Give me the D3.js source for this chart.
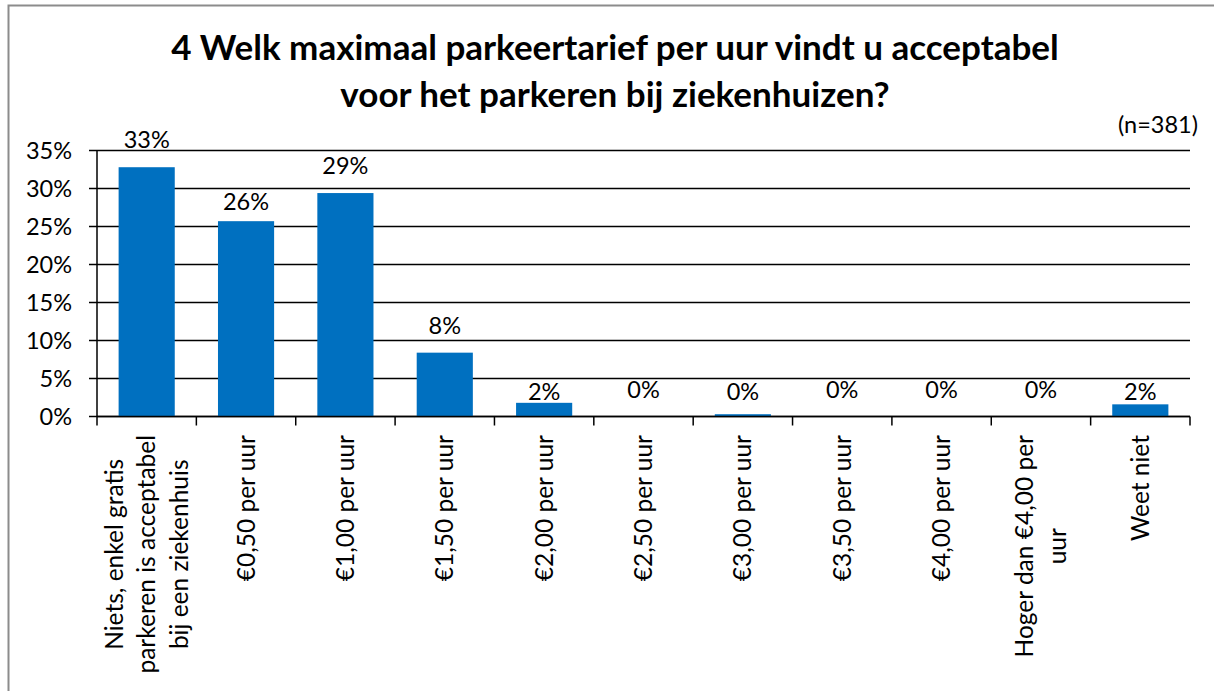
<!DOCTYPE html>
<html>
<head>
<meta charset="utf-8">
<script src="https://cdn.jsdelivr.net/npm/d3@7"></script>
<style>
    body { margin: 0; background: #fff; }
    svg { display: block; font-family: Lato, "Open Sans", sans-serif; }
</style>
</head>
<body>
<svg id="chart"></svg>
<script>
// Data
const categories = [
    "Niets, enkel gratis\nparkeren is acceptabel\nbij een ziekenhuis",
    "€0,50 per uur",
    "€1,00 per uur",
    "€1,50 per uur",
    "€2,00 per uur",
    "€2,50 per uur",
    "€3,00 per uur",
    "€3,50 per uur",
    "€4,00 per uur",
    "Hoger dan €4,00 per\nuur",
    "Weet niet"
];
const values = [0.328, 0.257, 0.294, 0.084, 0.018, 0, 0.003, 0, 0, 0, 0.016];
const valueLabels = ["33%", "26%", "29%", "8%", "2%", "0%", "0%", "0%", "0%", "0%", "2%"];
const yTicks = [0, 0.05, 0.10, 0.15, 0.20, 0.25, 0.30, 0.35];
const titleLines = [
    "4 Welk maximaal parkeertarief per uur vindt u acceptabel",
    "voor het parkeren bij ziekenhuizen?"
];
const sampleNote = "(n=381)";

const width = 1214;
const height = 691;
const svg = d3.select("#chart").attr("width", width).attr("height", height);

const plot = { left: 97, right: 1190, top: 150.5, bottom: 416.5 };

// Outer frame (only left/top edges visible in the crop)
svg.append("rect")
    .attr("x", 8.5).attr("y", 5.5)
    .attr("width", width + 20).attr("height", height + 20)
    .attr("fill", "none")
    .attr("stroke", "#8c8c8c")
    .attr("stroke-width", 2);

// Scales
const x = d3.scaleBand()
    .domain(categories)
    .range([plot.left, plot.right])
    .paddingInner(0.435)
    .paddingOuter(0.2175);
const step = x.step();

const y = d3.scaleLinear()
    .domain([0, 0.35])
    .range([plot.bottom, plot.top]);

// Gridlines + y ticks
svg.append("g")
    .selectAll("line")
    .data(yTicks)
    .join("line")
    .attr("x1", plot.left - 8)
    .attr("x2", plot.right)
    .attr("y1", d => y(d))
    .attr("y2", d => y(d))
    .attr("stroke", "#000")
    .attr("stroke-width", 1.5);

svg.append("g")
    .selectAll("text")
    .data(yTicks)
    .join("text")
    .attr("x", 72)
    .attr("y", d => y(d))
    .attr("dy", "0.36em")
    .attr("text-anchor", "end")
    .attr("font-size", "23.5px")
    .attr("fill", "#000")
    .text(d => d3.format(".0%")(d));

// Y axis line
svg.append("line")
    .attr("x1", plot.left).attr("x2", plot.left)
    .attr("y1", plot.top).attr("y2", plot.bottom)
    .attr("stroke", "#000").attr("stroke-width", 1.5);

// X axis ticks at category boundaries
const boundaries = d3.range(categories.length + 1).map(i => plot.left + i * step);
svg.append("g")
    .selectAll("line")
    .data(boundaries)
    .join("line")
    .attr("x1", d => d).attr("x2", d => d)
    .attr("y1", plot.bottom).attr("y2", plot.bottom + 9)
    .attr("stroke", "#000").attr("stroke-width", 1.5);

// Bars
svg.append("g")
    .selectAll("rect")
    .data(values)
    .join("rect")
    .attr("x", (d, i) => x(categories[i]))
    .attr("width", x.bandwidth())
    .attr("y", d => y(d))
    .attr("height", d => y(0) - y(d))
    .attr("fill", "#0070c0");

// X axis line drawn over bars
svg.append("line")
    .attr("x1", plot.left).attr("x2", plot.right)
    .attr("y1", plot.bottom).attr("y2", plot.bottom)
    .attr("stroke", "#000").attr("stroke-width", 1.5);

// Value labels: sit above the bar, but drop below a gridline if they would cross it
const capH = 16;
function labelBaseline(v) {
    let b = y(v) - 19;
    const hit = yTicks.map(t => y(t)).find(g => g > b - capH - 2 && g < b + 2);
    if (hit !== undefined) b = hit + 5 + capH;
    return b;
}

svg.append("g")
    .selectAll("text")
    .data(values)
    .join("text")
    .attr("x", (d, i) => x(categories[i]) + x.bandwidth() / 2)
    .attr("y", d => labelBaseline(d))
    .attr("text-anchor", "middle")
    .attr("font-size", "23.5px")
    .attr("fill", "#000")
    .text((d, i) => valueLabels[i]);

// Category labels, rotated, lines centred inside a block anchored at the top
const labelTop = 435;
const lineGap = 32.5;
categories.forEach(cat => {
    const lines = cat.split("\n");
    const cx = x(cat) + x.bandwidth() / 2;
    const g = svg.append("g");
    const texts = lines.map(ln => g.append("text")
        .attr("font-size", "24.5px")
        .attr("fill", "#000")
        .attr("text-anchor", "middle")
        .attr("dy", "0.35em")
        .text(ln));
    const maxLen = d3.max(texts, t => t.node().getComputedTextLength());
    texts.forEach((t, i) => {
        const lx = cx + (i - (lines.length - 1) / 2) * lineGap;
        t.attr("transform", `translate(${lx},${labelTop + maxLen / 2}) rotate(-90)`);
    });
});

// Title
svg.append("g")
    .selectAll("text")
    .data(titleLines)
    .join("text")
    .attr("x", 615)
    .attr("y", (d, i) => 60 + i * 47)
    .attr("text-anchor", "middle")
    .attr("font-size", "35px")
    .attr("font-weight", "bold")
    .attr("fill", "#000")
    .text(d => d);

svg.append("text")
    .attr("x", 1198)
    .attr("y", 133)
    .attr("text-anchor", "end")
    .attr("font-size", "23.5px")
    .attr("fill", "#000")
    .text(sampleNote);
</script>
</body>
</html>
